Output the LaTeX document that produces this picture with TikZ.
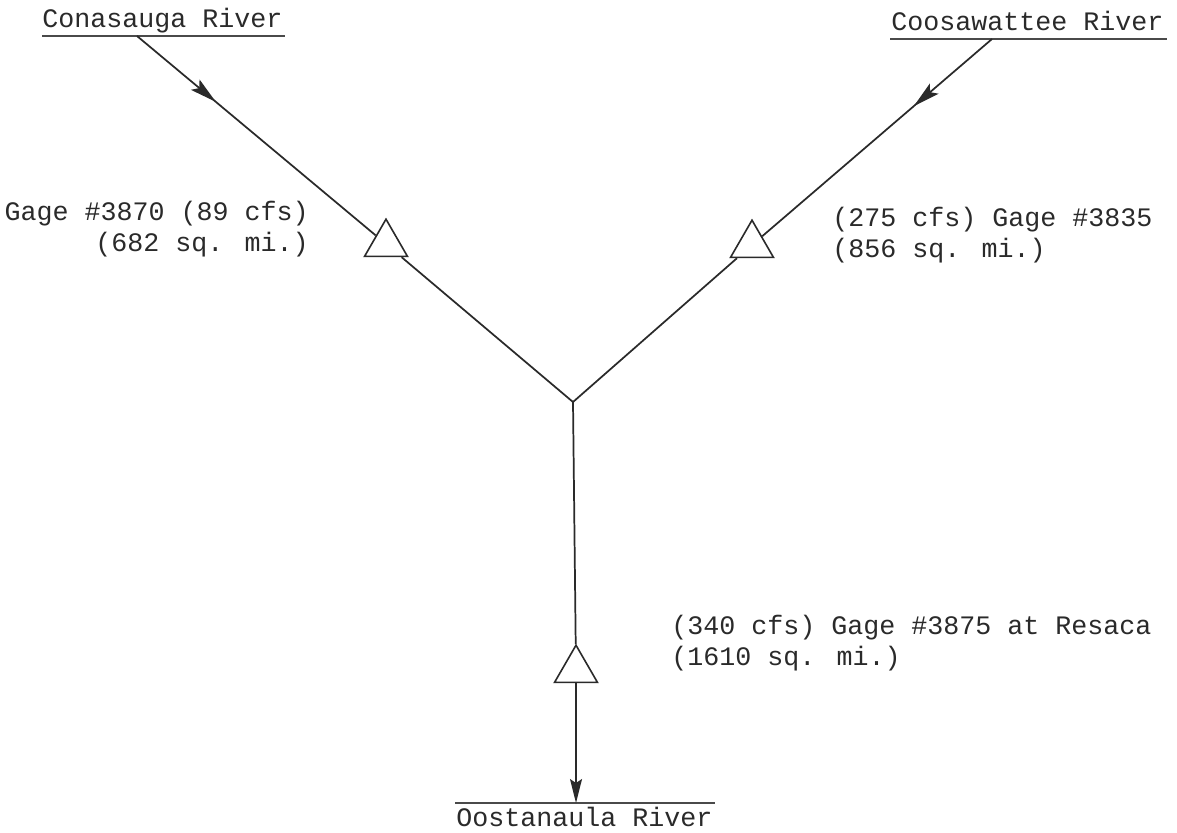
\documentclass[tikz,border=0pt]{standalone}
\usepackage{fontspec}
\newfontfamily\cour{Liberation Mono}
\usetikzlibrary{shapes.geometric,arrows.meta,decorations.markings}
\definecolor{ink}{HTML}{2A2A2A}
\begin{document}
\begin{tikzpicture}[x=0.75pt,y=-0.75pt,
  lbl/.style={font=\cour\fontsize{20}{23.25}\selectfont, inner sep=0pt, text=ink},
  gage/.style={regular polygon, regular polygon sides=3, draw=ink, line width=1.2pt,
    minimum size=37.2pt, inner sep=0pt, fill=white},
  river/.style={draw=ink, line width=1.3pt},
  ulin/.style={draw=ink!85, line width=1.4pt},
  midarrow/.style={postaction={decorate}, decoration={markings,
    mark=at position #1 with {\arrow{Stealth[length=20pt,width=10pt,inset=4pt]}}}},
  endarrow/.style={-{Stealth[length=18pt,width=9pt,inset=3pt]}}
]
\useasboundingbox (0,0) rectangle (1177,832);

% river names and underlines
\node[lbl, anchor=base west] (con) at (42,27) {Conasauga River};
\node[lbl, anchor=base west] (coo) at (891,30) {Coosawattee River};
\node[lbl, anchor=base west] (oos) at (456,826) {Oostanaula River};
\coordinate (u1w) at (42,36);  \coordinate (u1e) at (285,36);
\coordinate (u2w) at (890,39); \coordinate (u2e) at (1167,39);
\coordinate (u3w) at (455,803); \coordinate (u3e) at (715,803);
\draw[ulin] (u1w) -- (u1e);
\draw[ulin] (u2w) -- (u2e);
\draw[ulin] (u3w) -- (u3e);

% connection points
\coordinate (c1) at (137,36);
\coordinate (c2) at (992,39);
\coordinate (c3) at (576,803);
\coordinate (j) at (573,402);

% gages
\node[gage] (t1) at (386,244) {};
\node[gage] (t2) at (752,245) {};
\node[gage] (t3) at (576,670) {};

% river lines
\draw[river, midarrow=0.33] (c1) -- (t1);
\draw[river, midarrow=0.34] (c2) -- (t2);
\draw[river] (t1) -- (j);
\draw[river] (t2) -- (j);
\draw[river] (j) -- (t3);
\draw[river, endarrow] (t3) -- (c3);

% gage labels
\node[lbl, anchor=base east] (l1) at (309,220)
  {\begin{tabular}[t]{@{}r@{}}Gage \#3870 (89 cfs)\\(682 sq. mi.)\end{tabular}};
\node[lbl, anchor=base west] (l2) at (832,226)
  {\begin{tabular}[t]{@{}l@{}}(275 cfs) Gage \#3835\\(856 sq. mi.)\end{tabular}};
\node[lbl, anchor=base west] (l3) at (671,634)
  {\begin{tabular}[t]{@{}l@{}}(340 cfs) Gage \#3875 at Resaca\\(1610 sq. mi.)\end{tabular}};
\end{tikzpicture}
\end{document}
